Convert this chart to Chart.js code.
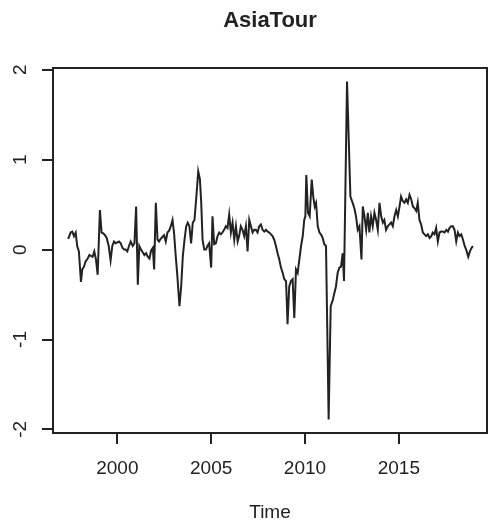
<!DOCTYPE html>
<html>
<head>
<meta charset="utf-8">
<title>AsiaTour</title>
<script src="https://cdn.jsdelivr.net/npm/chart.js@4/dist/chart.umd.min.js"></script>
<style>
  html, body { margin: 0; padding: 0; background: #fff; }
  #wrap { width: 489px; height: 529px; }
</style>
</head>
<body>
<div id="wrap"><canvas id="asiaChart" width="489" height="529"></canvas></div>
<script>
// monthly series (decimal year, value)
const times = [
  1997.38, 1997.51, 1997.60, 1997.69, 1997.78, 1997.86, 1997.95, 1998.06, 1998.13, 1998.22,
  1998.31, 1998.42, 1998.51, 1998.59, 1998.68, 1998.77, 1998.86, 1998.95, 1999.07, 1999.16,
  1999.25, 1999.34, 1999.43, 1999.54, 1999.64, 1999.73, 1999.82, 1999.91, 2000.00, 2000.09,
  2000.18, 2000.27, 2000.36, 2000.44, 2000.53, 2000.62, 2000.71, 2000.82, 2000.91, 2001.00,
  2001.09, 2001.17, 2001.26, 2001.35, 2001.44, 2001.53, 2001.62, 2001.71, 2001.80, 2001.89,
  2001.96, 2002.05, 2002.14, 2002.22, 2002.31, 2002.40, 2002.49, 2002.58, 2002.67, 2002.76,
  2002.85, 2002.94, 2003.02, 2003.11, 2003.20, 2003.31, 2003.40, 2003.49, 2003.58, 2003.67,
  2003.75, 2003.84, 2003.93, 2004.02, 2004.11, 2004.20, 2004.31, 2004.40, 2004.47, 2004.54,
  2004.63, 2004.72, 2004.80, 2004.89, 2005.00, 2005.07, 2005.16, 2005.25, 2005.34, 2005.43,
  2005.52, 2005.60, 2005.69, 2005.78, 2005.87, 2005.96, 2006.05, 2006.14, 2006.23, 2006.32,
  2006.41, 2006.49, 2006.58, 2006.67, 2006.76, 2006.85, 2006.94, 2007.03, 2007.12, 2007.21,
  2007.30, 2007.38, 2007.47, 2007.56, 2007.65, 2007.74, 2007.83, 2007.92, 2008.01, 2008.10,
  2008.19, 2008.27, 2008.36, 2008.45, 2008.54, 2008.63, 2008.72, 2008.81, 2008.90, 2008.99,
  2009.07, 2009.16, 2009.25, 2009.34, 2009.43, 2009.52, 2009.61, 2009.70, 2009.79, 2009.88,
  2009.96, 2010.02, 2010.07, 2010.16, 2010.25, 2010.36, 2010.44, 2010.52, 2010.59, 2010.68,
  2010.77, 2010.85, 2010.94, 2011.03, 2011.12, 2011.26, 2011.37, 2011.48, 2011.57, 2011.65,
  2011.74, 2011.83, 2011.92, 2012.01, 2012.08, 2012.24, 2012.42, 2012.54, 2012.63, 2012.72,
  2012.81, 2012.90, 2013.01, 2013.08, 2013.17, 2013.26, 2013.35, 2013.43, 2013.52, 2013.61,
  2013.70, 2013.79, 2013.88, 2013.97, 2014.06, 2014.15, 2014.23, 2014.32, 2014.41, 2014.50,
  2014.59, 2014.68, 2014.77, 2014.86, 2014.95, 2015.04, 2015.12, 2015.21, 2015.30, 2015.39,
  2015.48, 2015.57, 2015.66, 2015.75, 2015.84, 2015.93, 2016.01, 2016.10, 2016.19, 2016.28,
  2016.37, 2016.46, 2016.55, 2016.64, 2016.73, 2016.81, 2016.90, 2016.99, 2017.08, 2017.17,
  2017.26, 2017.35, 2017.44, 2017.53, 2017.62, 2017.70, 2017.79, 2017.88, 2017.97, 2018.06,
  2018.15, 2018.24, 2018.33, 2018.42, 2018.51, 2018.59, 2018.70, 2018.79, 2018.88, 2018.95
];
const values = [
  0.12, 0.19, 0.20, 0.15, 0.19, 0.04, -0.02, -0.36, -0.22, -0.19,
  -0.13, -0.10, -0.06, -0.07, -0.08, -0.02, -0.11, -0.28, 0.44, 0.19,
  0.18, 0.16, 0.13, 0.04, -0.12, 0.04, 0.09, 0.07, 0.08, 0.09,
  0.07, 0.02, 0.00, 0.00, -0.02, 0.04, 0.09, 0.04, 0.07, 0.48,
  -0.39, 0.04, 0.00, -0.03, -0.06, -0.04, -0.08, -0.10, -0.01, 0.02,
  -0.22, 0.52, 0.11, 0.09, 0.12, 0.14, 0.16, 0.09, 0.19, 0.21,
  0.26, 0.33, 0.19, -0.07, -0.30, -0.63, -0.41, -0.07, 0.11, 0.26,
  0.30, 0.26, 0.07, 0.30, 0.33, 0.56, 0.87, 0.78, 0.52, 0.11,
  0.00, 0.00, 0.04, 0.07, -0.20, 0.37, 0.06, 0.07, 0.15, 0.19,
  0.17, 0.19, 0.22, 0.26, 0.24, 0.39, 0.19, 0.30, 0.11, 0.26,
  0.09, 0.15, 0.26, 0.22, 0.15, 0.26, -0.02, 0.33, 0.26, 0.19,
  0.22, 0.22, 0.19, 0.26, 0.28, 0.22, 0.20, 0.22, 0.20, 0.19,
  0.17, 0.15, 0.11, 0.04, -0.04, -0.11, -0.20, -0.26, -0.33, -0.35,
  -0.83, -0.41, -0.35, -0.33, -0.76, -0.22, -0.26, -0.11, 0.04, 0.15,
  0.33, 0.37, 0.83, 0.41, 0.37, 0.78, 0.59, 0.48, 0.52, 0.26,
  0.19, 0.17, 0.13, 0.06, 0.04, -1.89, -0.63, -0.56, -0.48, -0.41,
  -0.26, -0.20, -0.19, -0.04, -0.35, 1.87, 0.59, 0.52, 0.46, 0.37,
  0.22, 0.26, -0.11, 0.48, 0.37, 0.22, 0.41, 0.19, 0.37, 0.26,
  0.41, 0.33, 0.22, 0.52, 0.37, 0.30, 0.33, 0.22, 0.26, 0.28,
  0.30, 0.26, 0.37, 0.44, 0.37, 0.48, 0.59, 0.54, 0.52, 0.56,
  0.52, 0.61, 0.56, 0.48, 0.46, 0.43, 0.52, 0.33, 0.28, 0.19,
  0.17, 0.15, 0.17, 0.13, 0.15, 0.19, 0.17, 0.24, 0.09, 0.19,
  0.20, 0.20, 0.19, 0.22, 0.20, 0.24, 0.26, 0.26, 0.22, 0.09,
  0.19, 0.15, 0.17, 0.11, 0.04, 0.00, -0.08, -0.02, 0.02, 0.04
];
const xTicks = [2000, 2005, 2010, 2015];
const yTicks = [-2, -1, 0, 1, 2];

const ink = "#222";
const fontFamily = "'Liberation Sans', Arial, Helvetica, sans-serif";

// R style box round the plot region
const boxPlugin = {
  id: "plotBox",
  afterDatasetsDraw(chart) {
    const a = chart.chartArea;
    const c = chart.ctx;
    c.save();
    c.strokeStyle = ink;
    c.lineWidth = 2;
    c.strokeRect(a.left, a.top, a.right - a.left, a.bottom - a.top);
    c.restore();
  },
};

const ctx = document.querySelector("#asiaChart").getContext("2d");
const myChart = new Chart(ctx, {
  type: "line",
  data: {
    datasets: [
      {
        label: "AsiaTour",
        data: times.map((t, i) => ({ x: t, y: values[i] })),
        borderColor: ink,
        borderWidth: 2,
        pointRadius: 0,
        tension: 0,
        fill: false,
      },
    ],
  },
  options: {
    responsive: false,
    animation: false,
    layout: { padding: { top: 0, right: 2, bottom: 0, left: 0 } },
    plugins: {
      legend: { display: false },
      tooltip: { enabled: false },
      title: {
        display: true,
        text: "AsiaTour",
        fullSize: false,
        color: ink,
        font: { family: fontFamily, size: 22, weight: "bold" },
        padding: { top: 8, bottom: 33.6 },
      },
    },
    scales: {
      x: {
        type: "linear",
        min: 1996.57,
        max: 2019.7,
        afterBuildTicks: (s) => {
          s.ticks = xTicks.map((v) => ({ value: v }));
        },
        afterFit: (s) => {
          s.height = 96;
          s.paddingLeft = 0;
          s.paddingRight = 0;
        },
        grid: { drawOnChartArea: false, drawTicks: true, tickLength: 11, color: ink, lineWidth: 2 },
        border: { display: false },
        ticks: {
          color: ink,
          padding: 13,
          maxRotation: 0,
          font: { family: fontFamily, size: 19 },
          callback: (v) => String(v),
        },
        title: {
          display: true,
          text: "Time",
          color: ink,
          font: { family: fontFamily, size: 19 },
          padding: { top: 0, bottom: 5 },
        },
      },
      y: {
        type: "linear",
        min: -2.04,
        max: 2.02,
        afterBuildTicks: (s) => {
          s.ticks = yTicks.map((v) => ({ value: v }));
        },
        afterFit: (s) => {
          s.width = 53;
          s.paddingTop = 0;
          s.paddingBottom = 0;
        },
        grid: { drawOnChartArea: false, drawTicks: true, tickLength: 11, color: ink, lineWidth: 2 },
        border: { display: false },
        ticks: {
          color: ink,
          padding: 12.5,
          minRotation: 90,
          maxRotation: 90,
          crossAlign: "center",
          font: { family: fontFamily, size: 19 },
          callback: (v) => String(v),
        },
      },
    },
  },
  plugins: [boxPlugin],
});
</script>
</body>
</html>
